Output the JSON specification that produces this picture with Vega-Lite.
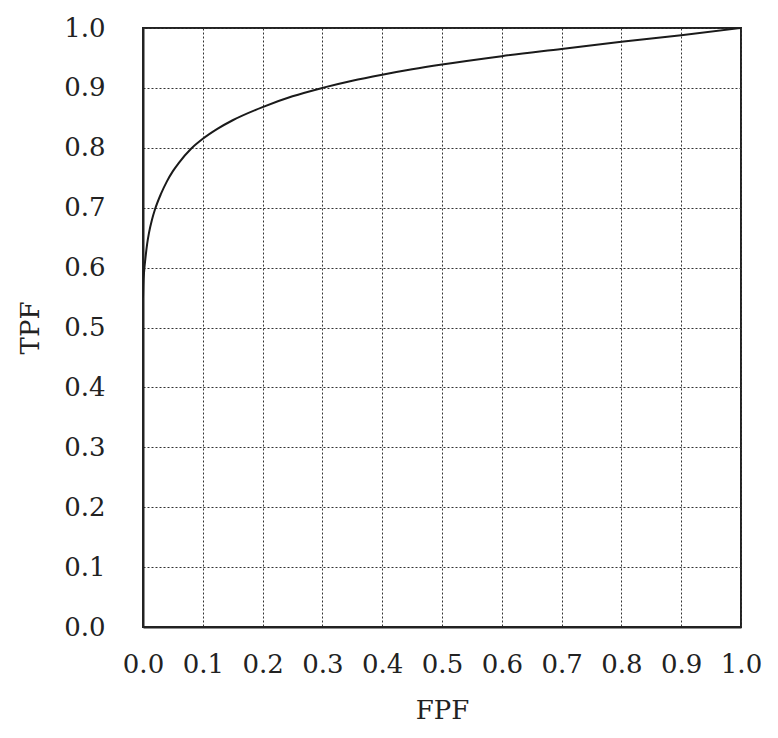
{
  "$schema": "https://vega.github.io/schema/vega-lite/v6.json",
  "autosize": {"type": "none"},
  "width": 598,
  "height": 599,
  "padding": {"left": 143, "top": 28, "right": 37, "bottom": 111},
  "background": "white",
  "config": {
    "view": {"stroke": "#222", "strokeWidth": 2},
    "font": "DejaVu Serif",
    "axis": {
      "labelFont": "DejaVu Serif",
      "titleFont": "DejaVu Serif",
      "labelFontSize": 26,
      "titleFontSize": 26,
      "titleFontWeight": "normal",
      "labelColor": "#222",
      "titleColor": "#222",
      "ticks": false,
      "tickSize": 0,
      "domainColor": "#222",
      "domainWidth": 2,
      "gridColor": "#333",
      "gridWidth": 1,
      "gridDash": [2, 2],
      "gridOpacity": 1
    }
  },
  "data": {
    "values": [
      {"FPF": 0.0, "TPF": 0.55},
      {"FPF": 0.0005, "TPF": 0.57},
      {"FPF": 0.002, "TPF": 0.595},
      {"FPF": 0.004, "TPF": 0.615},
      {"FPF": 0.007, "TPF": 0.64},
      {"FPF": 0.01, "TPF": 0.658},
      {"FPF": 0.015, "TPF": 0.68},
      {"FPF": 0.02, "TPF": 0.697},
      {"FPF": 0.03, "TPF": 0.723},
      {"FPF": 0.04, "TPF": 0.744},
      {"FPF": 0.05, "TPF": 0.761},
      {"FPF": 0.06, "TPF": 0.775},
      {"FPF": 0.08, "TPF": 0.798},
      {"FPF": 0.1, "TPF": 0.815},
      {"FPF": 0.125, "TPF": 0.832},
      {"FPF": 0.15, "TPF": 0.846},
      {"FPF": 0.2, "TPF": 0.868},
      {"FPF": 0.25, "TPF": 0.886},
      {"FPF": 0.3, "TPF": 0.9},
      {"FPF": 0.35, "TPF": 0.912},
      {"FPF": 0.4, "TPF": 0.922},
      {"FPF": 0.45, "TPF": 0.931},
      {"FPF": 0.5, "TPF": 0.939},
      {"FPF": 0.6, "TPF": 0.953},
      {"FPF": 0.7, "TPF": 0.965},
      {"FPF": 0.8, "TPF": 0.977},
      {"FPF": 0.9, "TPF": 0.988},
      {"FPF": 1.0, "TPF": 1.0}
    ]
  },
  "mark": {"type": "line", "color": "#1a1a1a", "strokeWidth": 2, "interpolate": "monotone", "clip": true},
  "encoding": {
    "x": {
      "field": "FPF",
      "type": "quantitative",
      "scale": {"domain": [0, 1], "nice": false, "zero": false},
      "axis": {
        "title": "FPF",
        "values": [0, 0.1, 0.2, 0.3, 0.4, 0.5, 0.6, 0.7, 0.8, 0.9, 1.0],
        "format": ".1f",
        "labelPadding": 24,
        "titlePadding": 20,
        "labelFlush": false,
        "labelOverlap": false
      }
    },
    "y": {
      "field": "TPF",
      "type": "quantitative",
      "scale": {"domain": [0, 1], "nice": false, "zero": false},
      "axis": {
        "title": "TPF",
        "values": [0, 0.1, 0.2, 0.3, 0.4, 0.5, 0.6, 0.7, 0.8, 0.9, 1.0],
        "format": ".1f",
        "labelPadding": 38,
        "titlePadding": 20,
        "labelFlush": false,
        "labelOverlap": false
      }
    },
    "order": {"field": "FPF", "type": "quantitative"}
  }
}
